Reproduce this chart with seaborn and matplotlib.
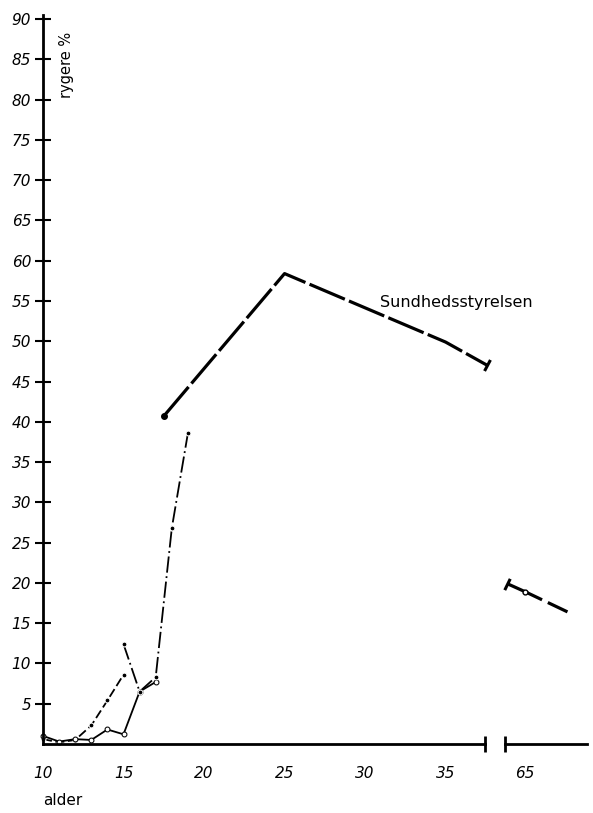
import numpy as np
import pandas as pd
import matplotlib
matplotlib.use("Agg")
import matplotlib.pyplot as plt
import seaborn as sns

# curves (age in years, smokers in %)
age_a = [10, 11, 12, 13, 14, 15]
pct_a = [0.6, 0.2, 0.5, 2.3, 5.4, 8.6]

age_b = [10, 11, 12, 13, 14, 15, 16, 17]
pct_b = [1.0, 0.3, 0.6, 0.5, 1.8, 1.2, 6.5, 7.7]

age_c = [15, 16, 17, 18, 19]
pct_c = [12.4, 6.5, 8.3, 26.8, 38.6]

sst_age = [17.5, 25, 35, 37.6]
sst_pct = [40.7, 58.4, 49.9, 47.0]

sst_old_age = [63.9, 65, 67.6]
sst_old_pct = [19.9, 18.9, 16.4]

y_ticks = list(range(5, 95, 5))
x_ticks_left = [10, 15, 20, 25, 30, 35]
x_ticks_right = [65]

sns.set_style("white")
plt.rcParams["font.family"] = ["DejaVu Sans"]
plt.rcParams["text.color"] = "black"
plt.rcParams["xtick.color"] = "black"
plt.rcParams["ytick.color"] = "black"

fig = plt.figure(figsize=(5.93, 8.13), dpi=100)
bottom, height = 0.0849, 0.8966
ax = fig.add_axes([0.0725, bottom, 0.7454, height])
ax2 = fig.add_axes([0.8516, bottom, 0.1383, height])
ax.patch.set_alpha(0)
ax2.patch.set_alpha(0)

ink = "black"
thin = dict(color=ink, linewidth=1.3, markersize=3.5, clip_on=False)

sns.lineplot(x=age_a, y=pct_a, ax=ax, marker="o", linestyle=(0, (5, 2)), **thin)
sns.lineplot(x=age_b, y=pct_b, ax=ax, marker="o", markerfacecolor="white",
             markeredgecolor=ink, linestyle="-", **thin)
sns.lineplot(x=age_c, y=pct_c, ax=ax, marker="o", linestyle=(0, (9, 2, 1, 2)), **thin)

thick = dict(color=ink, linewidth=2.3, clip_on=False)
sns.lineplot(x=sst_age, y=sst_pct, ax=ax, linestyle=(0, (12, 1.4)), **thick)
ax.plot(sst_age[0], sst_pct[0], "o", color=ink, markersize=4, clip_on=False)
ax.plot(sst_age[-1], sst_pct[-1], marker=(2, 0, -28), markersize=9,
        markeredgewidth=2.2, color=ink, clip_on=False)
ax.text(30.9, 54.8, "Sundhedsstyrelsen", fontsize=11.5, va="center", ha="left",
        clip_on=False, zorder=5)

sns.lineplot(x=sst_old_age, y=sst_old_pct, ax=ax2, linestyle=(0, (12, 2)), **thick)
ax2.plot(sst_old_age[1], sst_old_pct[1], "o", color=ink, markersize=3.5,
         markerfacecolor="white", clip_on=False)
ax2.plot(sst_old_age[0], sst_old_pct[0], marker=(2, 0, -26), markersize=9,
         markeredgewidth=2.2, color=ink, clip_on=False)

for a in (ax, ax2):
    a.set_ylim(0, 90.5)
    a.set_xlabel("")
    a.set_ylabel("")
    for s in ("top", "right"):
        a.spines[s].set_visible(False)
    a.spines["bottom"].set_linewidth(2)
    a.spines["bottom"].set_color(ink)
    a.tick_params(axis="x", direction="inout", length=11, width=1.5,
                  pad=10, labelsize=11)
    a.tick_params(axis="x", which="minor", direction="inout", length=12,
                  width=2, bottom=True)

ax.set_xlim(10, 37.45)
ax.set_xticks(x_ticks_left)
ax.set_xticklabels([str(t) for t in x_ticks_left], fontstyle="italic")
ax.set_xticks([37.45], minor=True)
ax.set_yticks(y_ticks)
ax.set_yticklabels([str(t) for t in y_ticks], fontstyle="italic", fontsize=11)
ax.tick_params(axis="y", direction="inout", length=11, width=1.5, pad=3, left=True)
ax.spines["left"].set_linewidth(2)
ax.spines["left"].set_color(ink)

ax2.set_xlim(63.76, 68.8)
ax2.set_xticks(x_ticks_right)
ax2.set_xticklabels([str(t) for t in x_ticks_right], fontstyle="italic")
ax2.set_xticks([63.76], minor=True)
ax2.spines["left"].set_visible(False)
ax2.set_yticks([])

fig.text(67 / 593, 1 - 32 / 813, "rygere %", rotation=90, va="top", ha="center",
         fontsize=10.5)
fig.text(43 / 593, 1 - 800 / 813, "alder", va="center", ha="left", fontsize=11)

fig.savefig("out.png", dpi=100)
